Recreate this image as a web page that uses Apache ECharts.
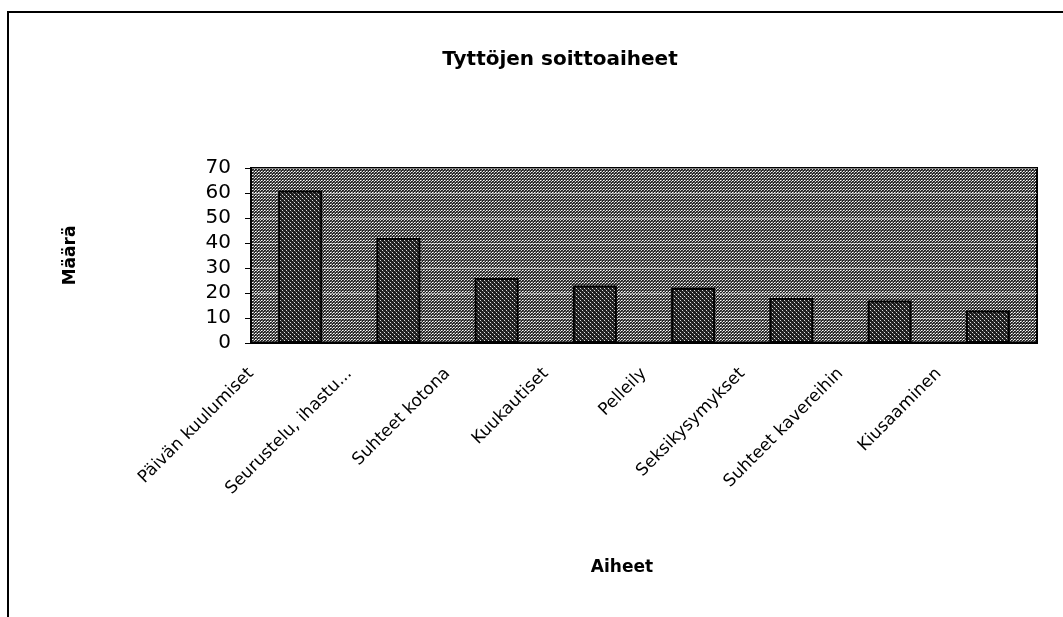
<!DOCTYPE html>
<html>
<head>
<meta charset="utf-8">
<title>Tyttöjen soittoaiheet</title>
<script src="https://cdn.jsdelivr.net/npm/echarts@6/dist/echarts.min.js"></script>
<style>
  html, body { margin: 0; padding: 0; background: #fff; }
  #main { width: 1063px; height: 617px; }
</style>
</head>
<body>
<div id="main"></div>
<script>
const categories = ['Päivän kuulumiset', 'Seurustelu, ihastu...', 'Suhteet kotona', 'Kuukautiset',
  'Pelleily', 'Seksikysymykset', 'Suhteet kavereihin', 'Kiusaaminen']
const values = [61, 42, 26, 23, 22, 18, 17, 13]
const yTicks = [0, 10, 20, 30, 40, 50, 60, 70]

// halftone-ish fills, like the scanned excel chart
function makeTile (w, h, bg, dots) {
  const c = document.createElement('canvas')
  c.width = w
  c.height = h
  const ctx = c.getContext('2d')
  ctx.fillStyle = bg
  ctx.fillRect(0, 0, w, h)
  dots.forEach(d => {
    ctx.fillStyle = d[2]
    ctx.fillRect(d[0], d[1], 1, 1)
  })
  return c
}

const plotTile = makeTile(3, 3, '#2a2a2a', [[0, 0, '#ffffff'], [1, 0, '#9a9a9a'], [2, 1, '#d0d0d0'], [1, 2, '#6a6a6a']])
const barTile = makeTile(4, 4, '#1e1e1e', [[0, 0, '#e0e0e0'], [2, 2, '#e0e0e0'], [1, 1, '#555'], [3, 3, '#555']])

const font = 'DejaVu Sans, Liberation Sans, Arial, sans-serif'

let myChart = echarts.init(document.getElementById('main'))
let option = {
  backgroundColor: '#fff',
  animation: false,
  title: {
    text: 'Tyttöjen soittoaiheet',
    left: 555,
    top: 45,
    textAlign: 'center',
    textStyle: { fontFamily: font, fontSize: 20, fontWeight: 'bold', color: '#000' }
  },
  grid: {
    left: 251,
    top: 168,
    right: 26,
    bottom: 274,
    show: true,
    backgroundColor: { image: plotTile, repeat: 'repeat' },
    borderColor: '#000',
    borderWidth: 2
  },
  xAxis: [
    {
      type: 'category',
      data: categories,
      boundaryGap: true,
      axisLine: { lineStyle: { color: '#000', width: 2 } },
      axisTick: { length: 5, lineStyle: { color: '#000' } },
      axisLabel: { show: false },
      name: 'Aiheet',
      nameLocation: 'middle',
      nameGap: 216,
      nameTextStyle: { fontFamily: font, fontSize: 17, fontWeight: 'bold', color: '#000', padding: [0, 44, 0, 0] }
    },
    {
      // label axis: excel put the rotated labels at the band edges
      type: 'category',
      data: categories.concat(['']),
      boundaryGap: false,
      position: 'bottom',
      axisLine: { show: false },
      axisTick: { show: false },
      axisLabel: {
        rotate: 45,
        margin: 28,
        interval: 0,
        fontFamily: font,
        fontSize: 17,
        color: '#000'
      }
    }
  ],
  yAxis: {
    type: 'value',
    min: yTicks[0],
    max: yTicks[yTicks.length - 1],
    interval: 10,
    axisLine: { show: true, lineStyle: { color: '#000', width: 2 } },
    axisTick: { show: true, length: 6, lineStyle: { color: '#000' } },
    axisLabel: { margin: 20, fontFamily: font, fontSize: 20, color: '#000' },
    splitLine: { show: true, lineStyle: { color: 'rgba(255,255,255,0.5)', width: 1 } },
    name: 'Määrä',
    nameLocation: 'middle',
    nameGap: 172,
    nameRotate: 90,
    nameTextStyle: { fontFamily: font, fontSize: 17, fontWeight: 'bold', color: '#000' }
  },
  series: [
    {
      type: 'bar',
      data: values,
      xAxisIndex: 0,
      barWidth: 44,
      itemStyle: {
        color: { image: barTile, repeat: 'repeat' },
        borderColor: '#000',
        borderWidth: 2
      }
    }
  ],
  graphic: [
    {
      type: 'polyline',
      shape: { points: [[8, 617], [8, 12], [1063, 12]] },
      style: { stroke: '#000', lineWidth: 2, fill: null }
    }
  ]
}
myChart.setOption(option)
</script>
</body>
</html>
